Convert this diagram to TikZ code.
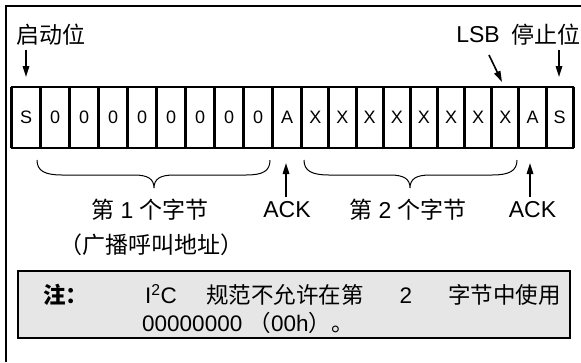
\documentclass[tikz,border=0pt]{standalone}
\usepackage{fontspec}
\setmainfont{Liberation Sans}
\newfontfamily\cjk{Noto Sans CJK SC}
\usetikzlibrary{arrows.meta}
\definecolor{notegray}{HTML}{E6E6E6}
\tikzset{
  lbl/.style={inner sep=0pt, font=\fontsize{23}{25}\selectfont},
  bit/.style={inner sep=0pt, font=\fontsize{18}{20}\selectfont},
  notetxt/.style={inner sep=0pt, font=\fontsize{22.5}{25}\selectfont},
  arr/.style={line width=1.6pt, -{Triangle[length=11pt,width=6.5pt]}},
  bracepath/.style={line width=1pt},
  frameline/.style={line width=2pt},
  cellrule/.style={line width=3pt},
  notebox/.style={draw, line width=2pt, fill=notegray},
}
\begin{document}
\begin{tikzpicture}[x=1pt,y=-1pt]
\useasboundingbox (0,0) rectangle (581,362);
% outer frame (only left and top visible)
\draw[frameline] (6,362) -- (6,6) -- (581,6);

% cells
\draw[frameline] (11.7,87) rectangle (573.3,148);
\foreach \b in {0,...,10} {\draw[cellrule] ({11.7+29*\b},87) -- ({11.7+29*\b},148);}
\foreach \b in {1,...,10} {\draw[cellrule] ({301.7+27.16*\b},87) -- ({301.7+27.16*\b},148);}
\foreach \t [count=\i] in {S,0,0,0,0,0,0,0,0,A}
  {\node[bit] (c\i) at ({11.7+29*(\i-0.5)},117.5) {\t};}
\foreach \t [count=\j] in {X,X,X,X,X,X,X,X,A,S}
  {\pgfmathtruncatemacro\k{\j+10}
   \node[bit] (c\k) at ({301.7+27.16*(\j-0.5)},117.5) {\t};}

% top labels
\node[lbl] (start) at (51,35) {\cjk 启动位};
\node[lbl] (lsb) at (478,35) {LSB};
\node[lbl] (stop) at (545.5,35) {\cjk 停止位};
\coordinate (starta) at (26,50);
\coordinate (startb) at (26,77);
\coordinate (lsba) at (489,55);
\coordinate (lsbb) at (502,82);
\coordinate (stopa) at (559,50);
\coordinate (stopb) at (559,77);
\draw[arr] (starta) -- (startb);
\draw[arr] (lsba) -- (lsbb);
\draw[arr] (stopa) -- (stopb);

% braces
\draw[bracepath] (37,160) .. controls (37,171) and (45,175) .. (62,175)
  -- (134,175) .. controls (148,175) and (154,179) .. (154,188)
  .. controls (154,179) and (160,175) .. (174,175)
  -- (246,175) .. controls (263,175) and (270,171) .. (270,160);
\draw[bracepath] (304,160) .. controls (304,171) and (312,175) .. (329,175)
  -- (390,175) .. controls (404,175) and (410,179) .. (410,188)
  .. controls (410,179) and (416,175) .. (430,175)
  -- (492,175) .. controls (509,175) and (517,171) .. (517,160);

% ACK arrows
\coordinate (ack1a) at (286,197);
\coordinate (ack1b) at (286,163);
\coordinate (ack2a) at (530,197);
\coordinate (ack2b) at (530,163);
\draw[arr] (ack1a) -- (ack1b);
\draw[arr] (ack2a) -- (ack2b);

% lower labels
\node[lbl] (byte1) at (150,210) {{\cjk 第} 1 {\cjk 个字节}};
\node[lbl] (bcast) at (151,245) {\cjk （广播呼叫地址）};
\node[lbl] (ack1) at (287,209.5) {ACK};
\node[lbl] (byte2) at (408,210) {{\cjk 第} 2 {\cjk 个字节}};
\node[lbl] (ack2) at (532.5,209.5) {ACK};

% note
\node[notebox, minimum width=552pt, minimum height=66.7pt, anchor=north west, inner sep=0pt] (note) at (16.7,270) {};
\node[notetxt, anchor=base west] (nlbl) at (43,303) {\cjk\bfseries 注：};
\node[notetxt, anchor=base west] (n1) at (145,303) {I\textsuperscript{2}C};
\node[notetxt, anchor=base west] (n2) at (206,303) {\cjk 规范不允许在第};
\node[notetxt, anchor=base] (n3) at (406,303) {2};
\node[notetxt, anchor=base east] (n4) at (561,303) {\cjk 字节中使用};
\node[notetxt, anchor=base west] (n5) at (142,331) {00000000 {\cjk （}00h{\cjk ）。}};
\end{tikzpicture}
\end{document}
